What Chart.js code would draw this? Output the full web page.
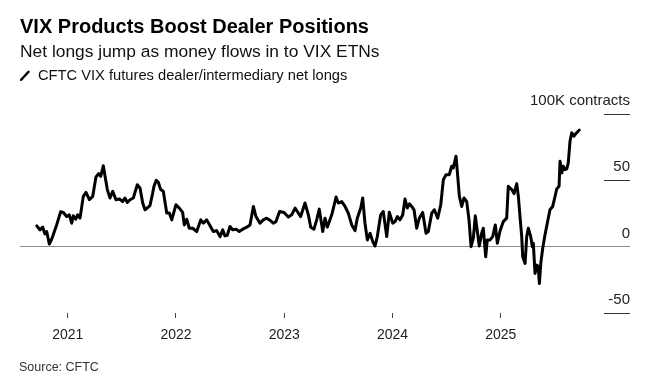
<!DOCTYPE html>
<html>
<head>
<meta charset="utf-8">
<script src="https://cdn.jsdelivr.net/npm/chart.js@4.4.1/dist/chart.umd.min.js"></script>
<style>
  html, body { margin: 0; padding: 0; background: #fff; }
  #wrap { position: relative; width: 660px; height: 390px; font-family: "Liberation Sans", Arial, sans-serif; color: #000; }
  #wrap canvas { position: absolute; left: 0; top: 0; }
  .txt { position: absolute; left: 20px; white-space: nowrap; line-height: 1; }
  #title { top: 16px; font-size: 20px; font-weight: bold; }
  #subtitle { top: 43px; font-size: 17.4px; color: #111; }
  #legend { top: 68px; left: 20px; font-size: 14.7px; color: #111; }
  #legend svg { position: absolute; left: 0; top: 2px; }
  #legend span { position: absolute; left: 18px; top: 0; }
  #source { top: 361px; left: 19px; font-size: 12.5px; color: #333; }
</style>
</head>
<body>
<div id="wrap">
  <canvas id="chart" width="660" height="390"></canvas>
  <div class="txt" id="title">VIX Products Boost Dealer Positions</div>
  <div class="txt" id="subtitle">Net longs jump as money flows in to VIX ETNs</div>
  <div class="txt" id="legend">
    <svg width="10" height="11" viewBox="0 0 10 11"><line x1="1.2" y1="9.8" x2="8.5" y2="1.8" stroke="#000" stroke-width="2.4" stroke-linecap="round"/></svg>
    <span>CFTC VIX futures dealer/intermediary net longs</span>
  </div>
  <div class="txt" id="source">Source: CFTC</div>
</div>
<script>
// report dates as decimal years, net longs in thousands of contracts
const dates = [
  2020.714, 2020.744, 2020.769, 2020.790, 2020.806, 2020.830, 2020.852, 2020.898, 2020.935, 2020.959,
  2020.991, 2021.015, 2021.037, 2021.052, 2021.074, 2021.092, 2021.114, 2021.144, 2021.169, 2021.200,
  2021.231, 2021.261, 2021.286, 2021.305, 2021.329, 2021.345, 2021.366, 2021.391, 2021.416, 2021.446,
  2021.477, 2021.508, 2021.529, 2021.551, 2021.576, 2021.606, 2021.643, 2021.668, 2021.693, 2021.714,
  2021.760, 2021.785, 2021.797, 2021.818, 2021.837, 2021.859, 2021.883, 2021.915, 2021.939, 2021.961,
  2022.000, 2022.031, 2022.062, 2022.077, 2022.099, 2022.123, 2022.155, 2022.192, 2022.229, 2022.253,
  2022.284, 2022.315, 2022.345, 2022.376, 2022.407, 2022.432, 2022.453, 2022.474, 2022.499, 2022.524,
  2022.555, 2022.585, 2022.617, 2022.654, 2022.684, 2022.715, 2022.739, 2022.776, 2022.807, 2022.838,
  2022.875, 2022.899, 2022.924, 2022.957, 2022.998, 2023.038, 2023.069, 2023.100, 2023.121, 2023.152,
  2023.192, 2023.223, 2023.245, 2023.275, 2023.300, 2023.324, 2023.356, 2023.377, 2023.398, 2023.439,
  2023.479, 2023.500, 2023.531, 2023.562, 2023.592, 2023.624, 2023.654, 2023.675, 2023.707, 2023.725,
  2023.746, 2023.768, 2023.793, 2023.818, 2023.839, 2023.860, 2023.891, 2023.915, 2023.947, 2023.971,
  2024.002, 2024.024, 2024.045, 2024.070, 2024.095, 2024.116, 2024.137, 2024.156, 2024.178, 2024.199,
  2024.224, 2024.248, 2024.279, 2024.310, 2024.331, 2024.363, 2024.387, 2024.418, 2024.446, 2024.470,
  2024.495, 2024.525, 2024.547, 2024.562, 2024.587, 2024.599, 2024.618, 2024.640, 2024.661, 2024.686,
  2024.707, 2024.726, 2024.747, 2024.765, 2024.784, 2024.802, 2024.824, 2024.839, 2024.861, 2024.876,
  2024.901, 2024.926, 2024.950, 2024.969, 2024.994, 2025.024, 2025.055, 2025.070, 2025.102, 2025.123,
  2025.148, 2025.163, 2025.178, 2025.194, 2025.203, 2025.225, 2025.240, 2025.255, 2025.277, 2025.292,
  2025.301, 2025.317, 2025.333, 2025.347, 2025.357, 2025.370, 2025.388, 2025.409, 2025.430, 2025.455,
  2025.480, 2025.502, 2025.517, 2025.539, 2025.548, 2025.564, 2025.578, 2025.594, 2025.610, 2025.624,
  2025.640, 2025.656, 2025.677, 2025.696, 2025.726
];
const netLongs = [
  15.7, 12.7, 14.7, 9.6, 11.4, 2.0, 5.6, 16.4, 26.3, 25.8,
  22.7, 24.0, 17.7, 23.3, 20.7, 24.0, 21.5, 37.9, 40.9, 35.4,
  37.9, 52.6, 55.0, 53.0, 61.0, 53.0, 43.0, 36.7, 41.7, 35.4,
  35.9, 34.0, 36.7, 33.3, 35.4, 36.7, 46.7, 44.2, 32.9, 27.8,
  31.0, 40.4, 45.5, 50.0, 48.5, 43.0, 41.7, 25.3, 25.3, 20.2,
  31.6, 29.1, 25.8, 16.4, 20.7, 13.9, 13.9, 11.4, 20.2, 17.7,
  20.2, 15.7, 11.4, 12.1, 7.6, 12.7, 8.1, 8.6, 15.2, 12.7,
  13.2, 11.4, 13.2, 14.7, 16.4, 30.3, 22.7, 17.7, 20.2, 21.5,
  19.5, 17.7, 18.9, 26.5, 25.8, 22.3, 24.0, 29.1, 26.5, 22.7,
  32.9, 24.0, 14.7, 13.2, 20.2, 28.3, 11.4, 21.5, 14.7, 24.0,
  37.4, 32.9, 34.0, 30.3, 25.3, 16.4, 12.1, 21.5, 29.1, 36.7,
  17.7, 5.1, 10.1, 3.8, 0.5, 7.6, 24.0, 26.5, 7.6, 26.0,
  17.7, 18.9, 22.7, 20.2, 24.0, 35.9, 29.1, 32.3, 30.3, 27.8,
  13.9, 21.5, 25.8, 10.1, 11.4, 25.3, 27.8, 21.5, 31.6, 50.5,
  54.3, 54.3, 60.6, 59.4, 68.2, 56.8, 37.9, 30.3, 36.7, 34.0,
  20.2, 0.0, 6.4, 23.3, 11.4, 0.5, 10.1, 13.9, -7.6, 5.1,
  5.1, 7.6, 16.4, 2.6, 12.0, 18.9, 21.5, 45.5, 43.0, 40.0,
  47.5, 37.9, 22.7, 7.6, -7.6, -12.6, 7.6, 13.9, 7.6, 0.0,
  2.6, -20.2, -13.9, -15.2, -27.8, -12.6, -1.2, 8.9, 17.7, 27.8,
  30.3, 37.9, 43.5, 45.5, 64.4, 55.6, 60.6, 58.1, 58.6, 63.2,
  79.5, 85.9, 83.3, 85.4, 87.9
];
const yearTicks = [2021, 2022, 2023, 2024, 2025];
const valueTicks = [-50, 0, 50, 100];
const topTickLabel = '100K contracts';

const FONT = '"Liberation Sans", Arial, sans-serif';
Chart.defaults.font.family = FONT;

const points = dates.map((d, i) => ({ x: d, y: netLongs[i] }));

new Chart(document.getElementById('chart'), {
  type: 'line',
  data: {
    datasets: [{
      label: 'CFTC VIX futures dealer/intermediary net longs',
      data: points,
      borderColor: '#000',
      borderWidth: 3,
      borderJoinStyle: 'round',
      borderCapStyle: 'round',
      pointRadius: 0,
      tension: 0,
      fill: false
    }]
  },
  options: {
    responsive: false,
    animation: false,
    layout: { padding: { top: 114, left: 20, right: 30, bottom: 0 } },
    plugins: { legend: { display: false }, tooltip: { enabled: false } },
    scales: {
      x: {
        type: 'linear',
        min: 2020.5594,
        max: 2025.954,
        afterBuildTicks: (s) => { s.ticks = yearTicks.map(v => ({ value: v })); },
        afterFit: (s) => { s.height = 77; },
        border: { display: false },
        grid: { drawOnChartArea: false, tickLength: 5, color: '#444' },
        ticks: {
          autoSkip: false, maxRotation: 0, padding: 9,
          color: '#222', font: { size: 14 },
          callback: (v) => String(v)
        }
      },
      y: {
        position: 'right',
        min: -50,
        max: 100,
        afterBuildTicks: (s) => { s.ticks = valueTicks.map(v => ({ value: v })); },
        afterFit: (s) => { s.width = 26; },
        border: { display: false },
        grid: {
          drawOnChartArea: true,
          tickLength: 26,
          color: (c) => (c.tick && c.tick.value === 0 ? '#8c8c8c' : 'rgba(0,0,0,0)'),
          tickColor: (c) => (c.tick && c.tick.value === 0 ? '#8c8c8c' : '#333')
        },
        ticks: {
          mirror: true, padding: 26, labelOffset: -13,
          color: '#222', font: { size: 15 },
          callback: (v) => (v === 100 ? topTickLabel : String(v))
        }
      }
    }
  }
});
</script>
</body>
</html>
